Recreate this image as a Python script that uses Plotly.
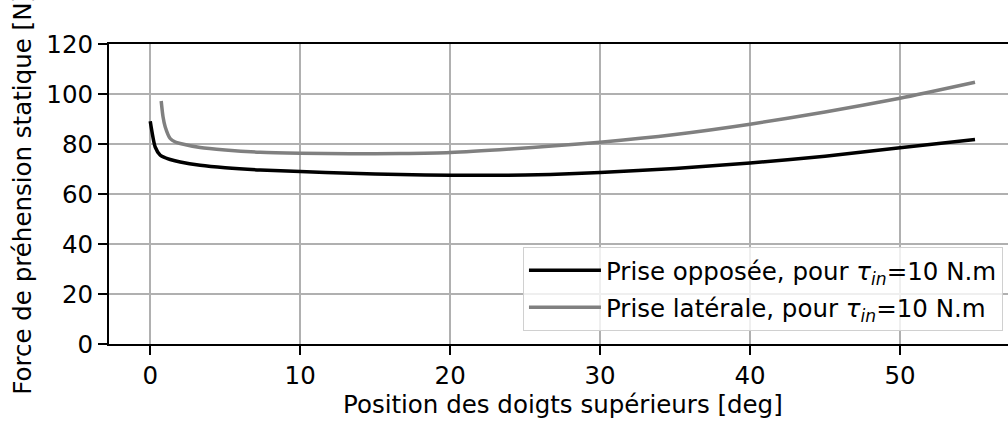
import plotly.graph_objects as go

# Prise opposée: finger position [deg] vs static grip force [N]
pos_opposee = [0, 0.33, 0.67, 1, 1.33, 2, 3.33, 5, 7.33, 10, 13.33, 16.67, 20,
               23.33, 26.67, 30, 35, 40, 45, 50, 55]
force_opposee = [89.1, 78.8, 75.5, 74.5, 73.8, 72.8, 71.5, 70.5, 69.6, 69.0, 68.3,
                 67.8, 67.5, 67.5, 67.8, 68.6, 70.2, 72.4, 75.1, 78.5, 81.8]

# Prise latérale
pos_laterale = [0.73, 0.85, 1.0, 1.33, 1.67, 2, 3.33, 5, 7.33, 10, 13.33, 16.67, 20,
                24, 27, 30, 35, 40, 45, 50, 55]
force_laterale = [97.2, 91.0, 86.8, 82.2, 80.8, 80.2, 78.6, 77.6, 76.7, 76.3, 76.1,
                  76.2, 76.6, 78.0, 79.3, 80.7, 83.8, 87.9, 92.8, 98.3, 104.7]

x_ticks = [0, 10, 20, 30, 40, 50]
y_ticks = [0, 20, 40, 60, 80, 100, 120]

FONT = "DejaVu Sans"
FS = 24.5

fig = go.Figure()
fig.add_trace(go.Scatter(
    x=pos_opposee, y=force_opposee, mode="lines",
    line=dict(color="black", width=3.5, shape="spline", smoothing=0.6),
    name="Prise opposée, pour <i>τ</i><sub><i>in</i></sub>=10 N.m",
    legendgroup="opp",
))
fig.add_trace(go.Scatter(
    x=pos_laterale, y=force_laterale, mode="lines",
    line=dict(color="#808080", width=3.5, shape="spline", smoothing=0.6),
    name="Prise latérale, pour <i>τ</i><sub><i>in</i></sub>=10 N.m",
    legendgroup="lat",
))

axis_common = dict(
    showgrid=True, gridcolor="#b0b0b0", gridwidth=1.6,
    showline=True, linecolor="black", linewidth=2,
    ticks="outside", ticklen=9, tickwidth=2, tickcolor="black",
    tickfont=dict(family=FONT, size=FS, color="black"),
    zeroline=False,
)

fig.update_xaxes(range=[-2.75, 57.2], tickvals=x_ticks, mirror=True, **axis_common)
fig.update_yaxes(range=[0, 120], tickvals=y_ticks, mirror=False, **axis_common)

fig.add_annotation(
    text="Position des doigts supérieurs [deg]",
    xref="paper", yref="paper", x=0.5045, y=-0.147, yanchor="top",
    showarrow=False, font=dict(family=FONT, size=FS, color="black"),
)
fig.add_annotation(
    text="Force de préhension statique [N]",
    xref="paper", yref="paper", x=-0.097, y=0.5, xanchor="center", yanchor="middle",
    textangle=-90, showarrow=False, font=dict(family=FONT, size=FS, color="black"),
)

fig.update_layout(
    width=1008, height=423,
    margin=dict(l=109, r=0, t=43.5, b=78.7),
    paper_bgcolor="white", plot_bgcolor="white",
    font=dict(family=FONT, size=FS, color="black"),
    showlegend=True,
    legend=dict(
        x=0.9944, y=0.3235, xanchor="right", yanchor="top",
        bgcolor="rgba(255,255,255,0.8)", bordercolor="#d0d0d0", borderwidth=1,
        font=dict(family=FONT, size=FS, color="black"),
        tracegroupgap=2, itemwidth=72,
    ),
)

fig.write_html("out.html")
